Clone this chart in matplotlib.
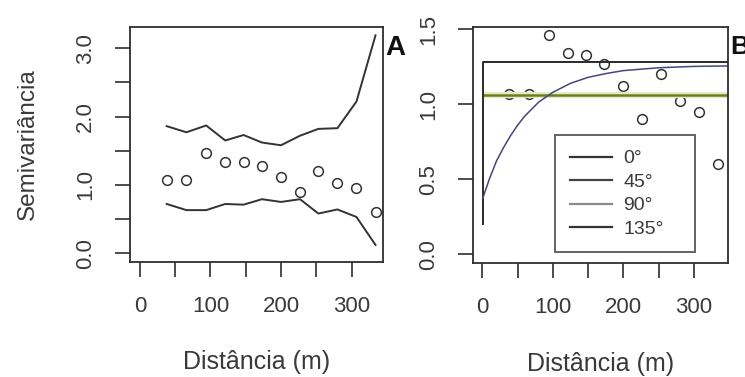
import matplotlib.pyplot as plt

plt.rcParams['font.family'] = ['Liberation Sans', 'DejaVu Sans']

# empirical semivariogram (same points in both panels)
dist = [38, 66, 94, 121, 147, 173, 200, 227, 253, 280, 307, 334]
semivar = [1.07, 1.07, 1.46, 1.34, 1.33, 1.27, 1.12, 0.90, 1.20, 1.02, 0.95, 0.60]

# envelope (panel A)
env_upper = [1.86, 1.77, 1.87, 1.65, 1.73, 1.62, 1.58, 1.72, 1.82, 1.83, 2.22, 3.19]
env_lower = [0.72, 0.63, 0.63, 0.72, 0.71, 0.79, 0.75, 0.79, 0.58, 0.64, 0.53, 0.12]

# directional models (panel B)
m0_x = [0.5, 0.5, 348]
m0_y = [0.20, 1.285, 1.285]
m90_x = [0.5, 348]
m90_y = [1.065, 1.065]
m135_x = [0.5, 10, 20, 30, 40, 50, 60, 80, 100, 125, 150, 175, 200, 250, 300, 348]
m135_y = [0.37, 0.50, 0.62, 0.71, 0.79, 0.86, 0.92, 1.015, 1.08, 1.14, 1.18, 1.205, 1.225, 1.244, 1.253, 1.256]
legend_labels = ['0°', '45°', '90°', '135°']

txt = '#3a3a3a'
edge = '#2e2e2e'

fig = plt.figure(figsize=(7.45, 3.77), dpi=100)
axA = fig.add_axes([0.1745, 0.305, 0.339, 0.623])
axB = fig.add_axes([0.635, 0.302, 0.342, 0.626])

for ax in (axA, axB):
    for s in ax.spines.values():
        s.set_color(edge)
        s.set_linewidth(1.3)
    ax.tick_params(direction='out', length=10.5, width=1.2, color=edge,
                   labelsize=16, labelcolor=txt, pad=14)
    ax.set_xticks(range(0, 301, 50))
    ax.set_xticklabels(['0', '', '100', '', '200', '', '300'])
    ax.set_xlabel('Distância (m)', fontsize=18, color=txt, labelpad=24)
    ax.plot(dist, semivar, 'o', mfc='none', mec='#333333', ms=7, mew=1.1)

# panel A
axA.plot(dist, env_upper, color='#333333', lw=1.4)
axA.plot(dist, env_lower, color='#333333', lw=1.4)
axA.set_xlim(-14, 344)
axA.set_ylim(-0.13, 3.31)
axA.set_yticks([0, 0.5, 1.0, 1.5, 2.0, 2.5, 3.0])
axA.set_yticklabels(['0.0', '', '1.0', '', '2.0', '', '3.0'], rotation=90, va='center')
axA.set_ylabel('Semivariância', fontsize=17.5, color=txt, labelpad=26)
axA.text(1.01, 0.91, 'A', transform=axA.transAxes, fontsize=20, fontweight='bold',
         color='#111111', ha='left', va='center')

# panel B
axB.plot(m90_x, m90_y, color='#e4ecc4', lw=4.5, solid_capstyle='butt')
axB.plot(m90_x, m90_y, color='#6f7f1f', lw=1.8)
axB.plot(m0_x, m0_y, color='#2a2a2a', lw=1.4)
axB.plot(m135_x, m135_y, color='#45457f', lw=1.1)
axB.set_xlim(-13, 348)
axB.set_ylim(-0.06, 1.515)
axB.set_yticks([0, 0.5, 1.0, 1.5])
axB.set_yticklabels(['0.0', '0.5', '1.0', '1.5'], rotation=90, va='center')
axB.text(1.008, 0.915, 'B', transform=axB.transAxes, fontsize=19, fontweight='bold',
         color='#111111', ha='left', va='center')

handles = [plt.Line2D([], [], color=c, lw=1.6) for c in ['#333333', '#444444', '#8a8a8a', '#333333']]
leg = axB.legend(handles, legend_labels, loc='upper left',
                 bbox_to_anchor=(0.322, 0.0, 0.549, 0.542), mode='expand',
                 fontsize=14, frameon=True, fancybox=False, handlelength=2.15,
                 handletextpad=0.6, labelspacing=0.3, borderpad=0.75, borderaxespad=0,
                 labelcolor=txt)
leg.get_frame().set_edgecolor(edge)
leg.get_frame().set_linewidth(1.3)

fig.savefig('out.png', dpi=100)
